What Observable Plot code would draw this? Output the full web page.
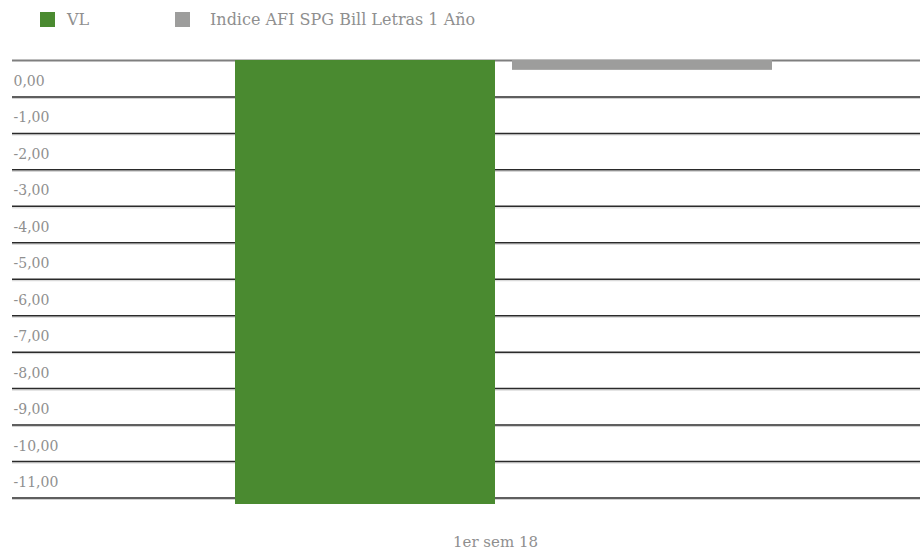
<!DOCTYPE html>
<html>
<head>
<meta charset="utf-8">
<script src="https://cdn.jsdelivr.net/npm/d3@7"></script>
<script src="https://cdn.jsdelivr.net/npm/@observablehq/plot@0.6"></script>
<style>
  body { margin: 0; background: #fff; font-family: "Roboto Slab", "DejaVu Serif", serif; }
  #legend { height: 40px; position: relative; font-size: 16px; color: #8f8f8f; }
  .item { position: absolute; top: 10px; display: flex; align-items: center; }
  .sw { width: 15px; height: 15px; display: inline-block; margin-right: 12px; }
</style>
</head>
<body>
<div id="legend"></div>
<div id="chart"></div>
<script>
const category = "1er sem 18";
const series = ["VL", "Indice AFI SPG Bill Letras 1 Año"];
const values = [-12.18, -0.27];
const colors = ["#4a8a30", "#9d9d9c"];
const tickValues = [0, -1, -2, -3, -4, -5, -6, -7, -8, -9, -10, -11, -12];
const tickLabels = ["0,00", "-1,00", "-2,00", "-3,00", "-4,00", "-5,00", "-6,00", "-7,00", "-8,00", "-9,00", "-10,00", "-11,00"];

const data = series.map((s, i) => ({series: s, value: values[i], category}));
const labelData = tickLabels.map((t, i) => ({v: tickValues[i], t}));

// legend
const legend = document.getElementById("legend");
const legendX = [40, 175];
series.forEach((s, i) => {
  const d = document.createElement("div");
  d.className = "item";
  d.style.left = legendX[i] + "px";
  d.innerHTML = `<span class="sw" style="background:${colors[i]}; margin-right:${i ? 20 : 12}px"></span><span>${s}</span>`;
  legend.appendChild(d);
});

const chart = Plot.plot({
  width: 920,
  height: 515,
  marginTop: 20,
  marginBottom: 51,
  marginLeft: 12,
  marginRight: 0,
  style: {fontFamily: "'Roboto Slab', 'DejaVu Serif', serif", fontSize: "14px", color: "#8f8f8f"},
  x: {domain: series, range: [235, 773], paddingInner: 0.06, paddingOuter: 0, axis: null},
  y: {domain: [-12.18, 0], axis: null},
  color: {domain: series, range: colors},
  marks: [
    Plot.ruleY(tickValues.filter(v => v !== 0), {stroke: "#d0d0d0", strokeWidth: 1, dy: 1.5}),
    Plot.ruleY(tickValues.filter(v => v !== 0), {stroke: "#2a2a2a", strokeWidth: 1.5}),
    Plot.ruleY([0], {stroke: "#7f7f7f", strokeWidth: 2}),
    Plot.text(labelData, {x: null, y: "v", text: "t", frameAnchor: "left", textAnchor: "start", dx: 1, dy: 21, fill: "#8f8f8f"}),
    Plot.barY(data, {x: "series", y: "value", fill: "series"}),
    Plot.text([category], {text: d => d, frameAnchor: "bottom", dx: 29, dy: 42, fontSize: 15, fill: "#8f8f8f"})
  ]
});
document.getElementById("chart").appendChild(chart);
</script>
</body>
</html>
